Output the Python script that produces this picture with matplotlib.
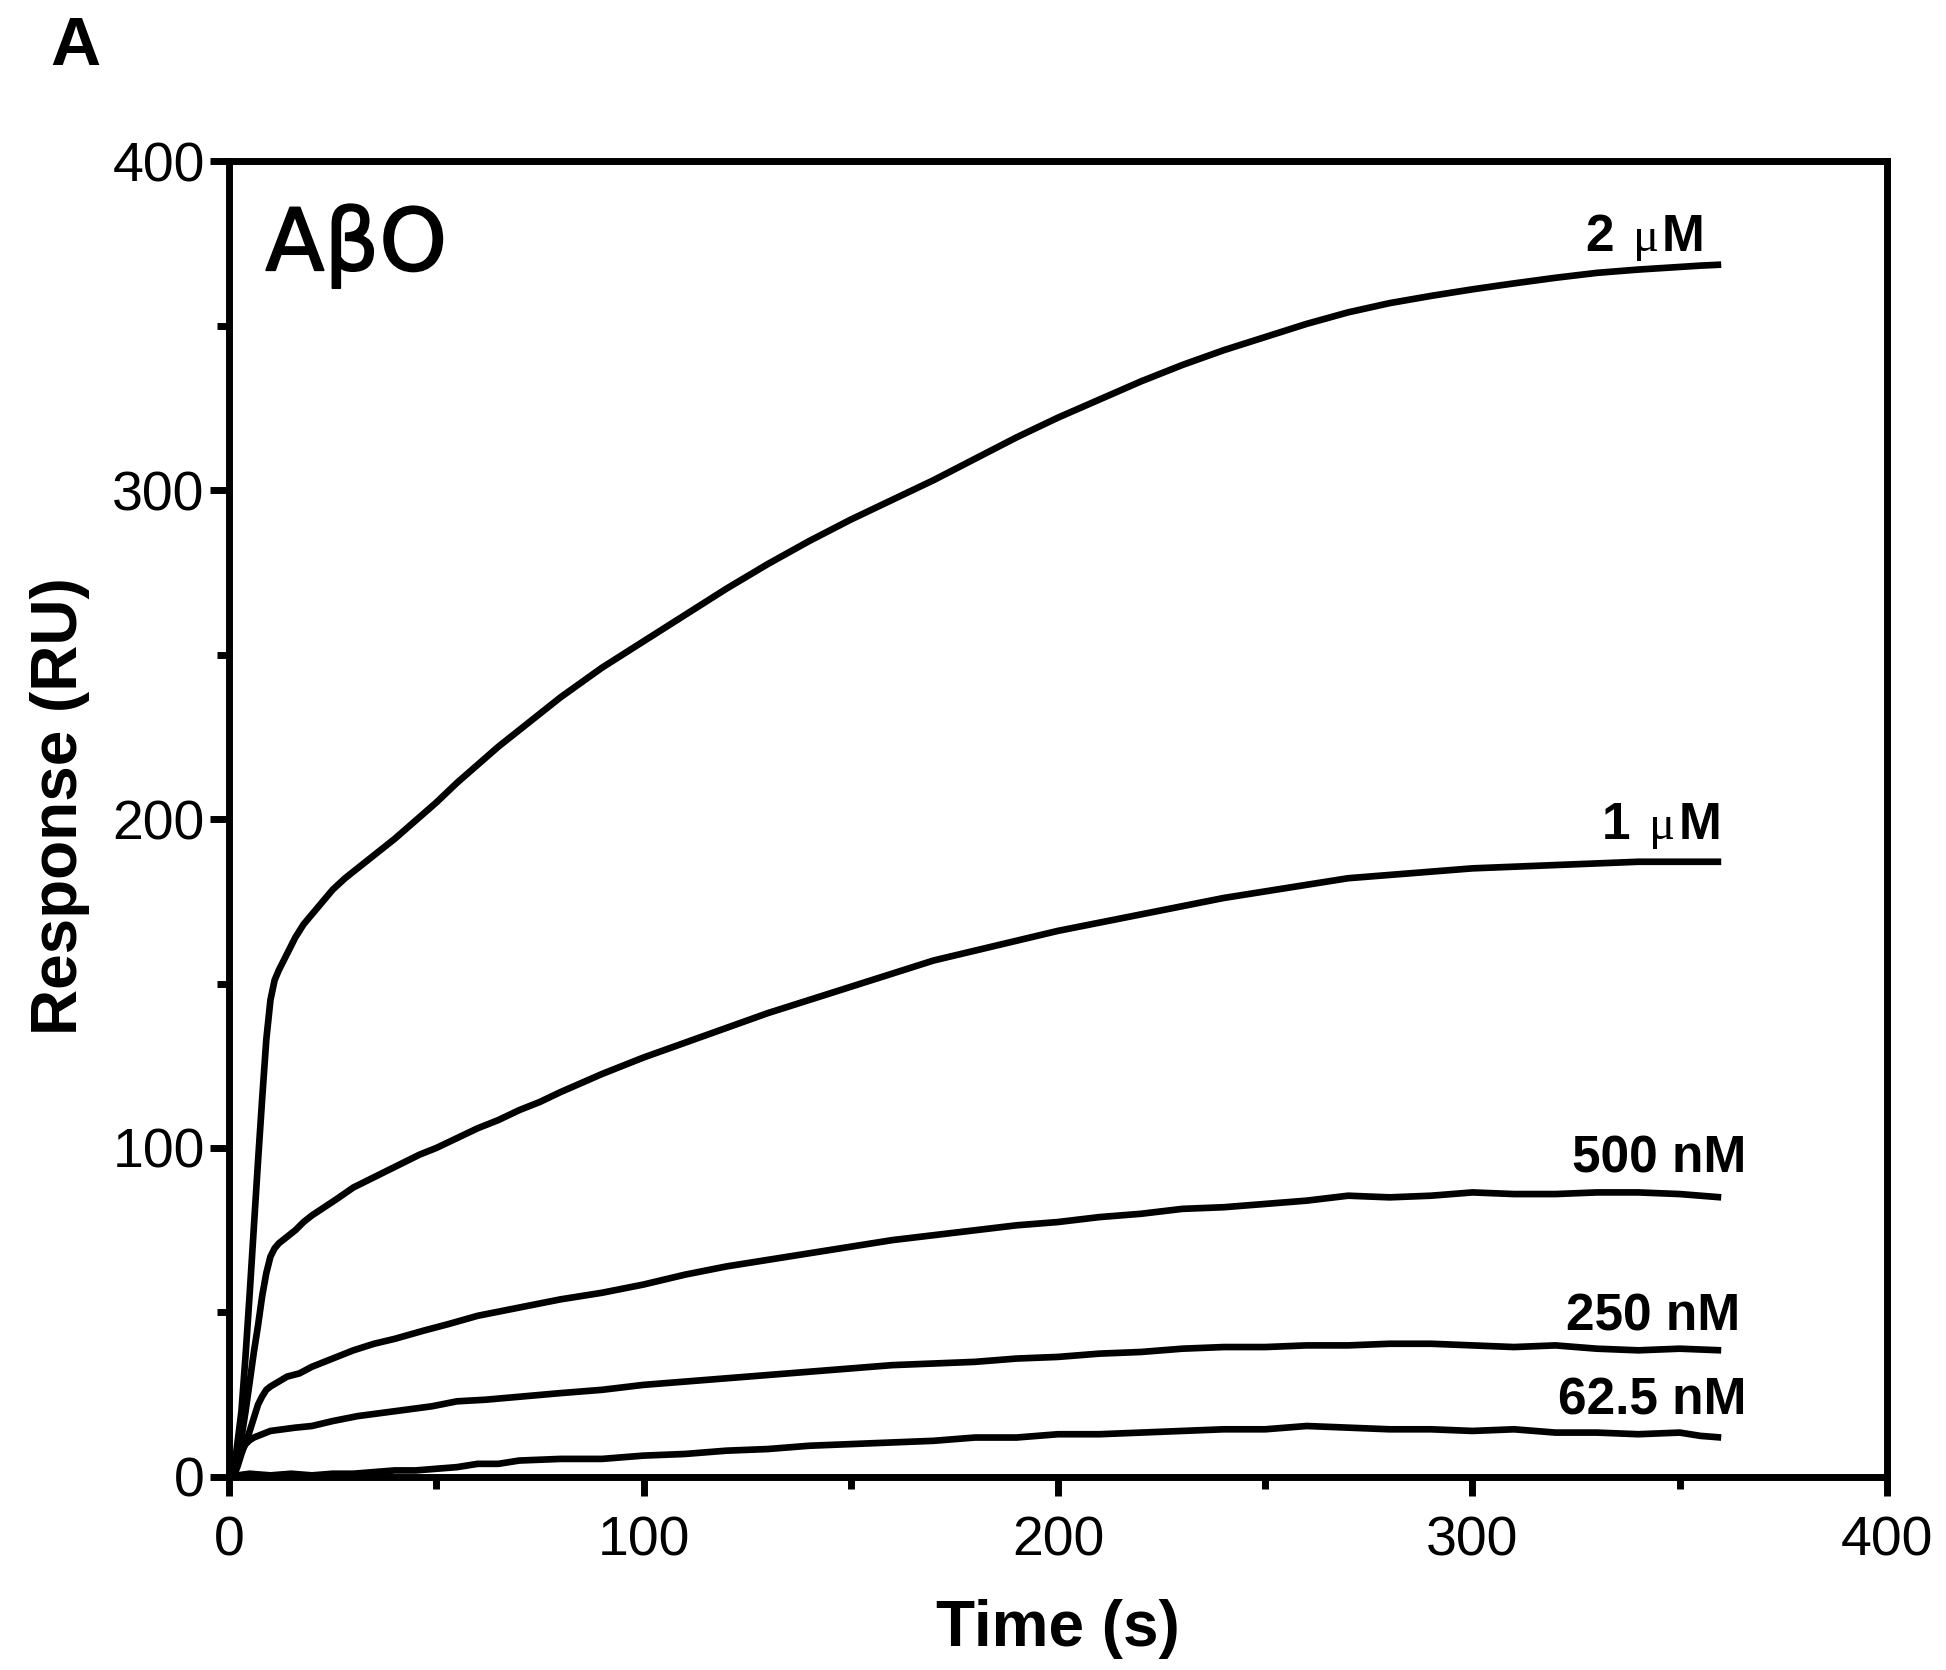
import matplotlib
matplotlib.use("Agg")
import matplotlib.pyplot as plt
import matplotlib.patheffects as pe
from matplotlib.ticker import MultipleLocator
from matplotlib.transforms import offset_copy

# ---- Association curves (time in s, response in RU) ----
t_2uM = [0, 1, 2, 3, 4, 5, 6, 7, 8, 9, 10, 11, 12, 14, 16, 18, 20, 22, 25, 28,
         32, 36, 40, 45, 50, 55, 60, 65, 70, 75, 80, 85, 90, 95, 100, 110, 120,
         130, 140, 150, 160, 170, 180, 190, 200, 210, 220, 230, 240, 250, 260,
         270, 280, 290, 300, 310, 320, 330, 340, 350, 355, 360]
r_2uM = [0, 0, 10, 20, 37, 56, 76, 96, 115, 133, 145, 151, 154, 159, 164, 168,
         171, 174, 178.5, 182, 186, 190, 194, 199.5, 205, 211, 216.5, 222,
         227, 232, 237, 241.5, 246, 250, 254, 262, 270, 277.5, 284.5, 291,
         297, 303, 309.5, 316, 322, 327.5, 333, 338, 342.5, 346.5, 350.5,
         354, 356.8, 359, 361, 362.8, 364.5, 366, 367, 367.8, 368.2, 368.5]

t_1uM = [0, 1, 2, 3, 4, 5, 6, 7, 8, 9, 10, 11, 12, 14, 16, 18, 20, 23, 26, 30,
         34, 38, 42, 46, 50, 55, 60, 65, 70, 75, 80, 90, 100, 110, 120, 130,
         140, 150, 160, 170, 180, 190, 200, 210, 220, 230, 240, 250, 260, 270,
         280, 290, 300, 310, 320, 330, 340, 350, 360]
r_1uM = [0, 0, 5, 12, 20, 29, 38, 46, 55, 62, 67, 69.5, 71, 73, 75, 77.5, 79.5,
         82, 84.5, 88, 90.5, 93, 95.5, 98, 100, 103, 106, 108.5, 111.5, 114,
         117, 122.5, 127.5, 132, 136.5, 141, 145, 149, 153, 157, 160, 163, 166,
         168.5, 171, 173.5, 176, 178, 180, 182, 183, 184, 185, 185.5, 186,
         186.5, 187, 187, 187]

t_500nM = [0, 1, 2, 3, 4, 5, 6, 7, 8, 9, 10, 12, 14, 17, 20, 25, 30, 35, 40,
           47, 53, 60, 66, 72, 80, 90, 100, 110, 120, 130, 140, 150, 160, 170,
           180, 190, 200, 210, 220, 230, 240, 250, 260, 270, 280, 290, 300,
           310, 320, 330, 340, 350, 355, 360]
r_500nM = [0, 0, 3, 7, 10.5, 14, 18, 22, 24.5, 26.5, 27.5, 29, 30.5, 31.5, 33.5,
           36, 38.5, 40.5, 42, 44.5, 46.5, 49, 50.5, 52, 54, 56, 58.5, 61.5,
           64, 66, 68, 70, 72, 73.5, 75, 76.5, 77.5, 79, 80, 81.5, 82, 83, 84,
           85.5, 85, 85.5, 86.5, 86, 86, 86.5, 86.5, 86, 85.5, 85]

t_250nM = [0, 1, 2, 3, 4, 5, 6, 8, 10, 13, 16, 20, 25, 31, 37, 43, 49, 55, 62,
           71, 80, 90, 100, 110, 120, 130, 140, 150, 160, 170, 180, 190, 200,
           210, 220, 230, 240, 250, 260, 270, 280, 290, 300, 310, 320, 330,
           340, 350, 360]
r_250nM = [0, 0, 4, 8, 10, 11.2, 12, 13, 14, 14.5, 15, 15.5, 17, 18.5, 19.5,
           20.5, 21.5, 23, 23.5, 24.5, 25.5, 26.5, 28, 29, 30, 31, 32, 33, 34,
           34.5, 35, 36, 36.5, 37.5, 38, 39, 39.5, 39.5, 40, 40, 40.5, 40.5, 40,
           39.5, 40, 39, 38.5, 39, 38.5]

t_62nM = [0, 2, 5, 10, 15, 20, 25, 30, 35, 40, 45, 50, 55, 60, 65, 70, 80, 90,
          100, 110, 120, 130, 140, 150, 160, 170, 180, 190, 200, 210, 220, 230,
          240, 250, 260, 270, 280, 290, 300, 310, 320, 330, 340, 350, 355, 360]
r_62nM = [0, 0.5, 1, 0.5, 1, 0.5, 1, 1, 1.5, 2, 2, 2.5, 3, 4, 4, 5, 5.5, 5.5,
          6.5, 7, 8, 8.5, 9.5, 10, 10.5, 11, 12, 12, 13, 13, 13.5, 14, 14.5,
          14.5, 15.5, 15, 14.5, 14.5, 14, 14.5, 13.5, 13.5, 13, 13.5, 12.5, 12]

series = [(t_2uM, r_2uM), (t_1uM, r_1uM), (t_500nM, r_500nM),
          (t_250nM, r_250nM), (t_62nM, r_62nM)]

# Concentration labels: (x, y baseline, number, unit) in data coordinates
conc_labels = [(356, 372.5, "2", "uM"), (360, 194, "1", "uM"),
               (366, 92.5, "500", "nM"), (364.5, 44.5, "250", "nM"),
               (366, 19, "62.5", "nM")]

x_ticks = [0, 100, 200, 300, 400]
y_ticks = [0, 100, 200, 300, 400]

SANS = "Liberation Sans"
LW = 5.0

fig = plt.figure(figsize=(19.46, 16.70), dpi=100)
ax = fig.add_axes([0.11768, 0.11557, 0.85200, 0.78802])

for t, r in series:
    ax.plot(t, r, color="black", lw=4.8, solid_joinstyle="round",
            solid_capstyle="butt", clip_on=False, zorder=3)

ax.set_xlim(0, 400)
ax.set_ylim(0, 400)
ax.set_xticks(x_ticks)
ax.set_yticks(y_ticks)
ax.xaxis.set_minor_locator(MultipleLocator(50))
ax.yaxis.set_minor_locator(MultipleLocator(50))

for s in ax.spines.values():
    s.set_linewidth(LW)
    s.set_color("black")
    s.set_capstyle("projecting")

ax.tick_params(which="major", direction="out", length=13.5, width=LW,
               color="black")
ax.tick_params(which="minor", direction="out", length=8.5, width=LW,
               color="black")
ax.tick_params(axis="x", which="major", pad=14)
ax.tick_params(axis="y", which="major", pad=4)
for lab in ax.get_xticklabels() + ax.get_yticklabels():
    lab.set_fontfamily(SANS)
    lab.set_fontsize(40)

ax.set_xlabel("Time (s)", fontfamily=SANS, fontsize=46, fontweight="bold")
ax.set_ylabel("Response (RU)", fontfamily=SANS, fontsize=46,
              fontweight="bold")
ax.xaxis.set_label_coords(0.5, -0.093)
ax.yaxis.set_label_coords(-0.084, 0.51)

ax.text(0.022, 0.917, "A\u03b2O", transform=ax.transAxes,
        fontfamily="DejaVu Sans", fontsize=62, fontweight="normal",
        ha="left", va="baseline",
        path_effects=[pe.withStroke(linewidth=1.3, foreground="black")])

fig.text(0.026, 0.961, "A", fontfamily=SANS, fontsize=50, fontweight="bold",
         ha="left", va="baseline")

# Concentration labels, assembled right-to-left so the micro sign can use a
# lighter serif face between bold pieces.
renderer = fig.canvas.get_renderer()
bold = dict(fontfamily=SANS, fontsize=37, fontweight="bold")
mu = dict(fontfamily="Liberation Serif", fontsize=35, fontweight="normal")
for x, y, num, unit in conc_labels:
    if unit == "uM":
        pieces = [(num, bold, 19), ("\u03bc", mu, 3), ("M", bold, 0)]
    else:
        pieces = [(num + " nM", bold, 0)]
    offset = 0.0
    for txt, props, gap in reversed(pieces):
        offset += gap
        tr = offset_copy(ax.transData, fig=fig, x=-offset, y=0, units="dots")
        tt = ax.text(x, y, txt, transform=tr, ha="right", va="baseline",
                     **props)
        offset += tt.get_window_extent(renderer).width

fig.savefig("out.png", dpi=100, facecolor="white")
